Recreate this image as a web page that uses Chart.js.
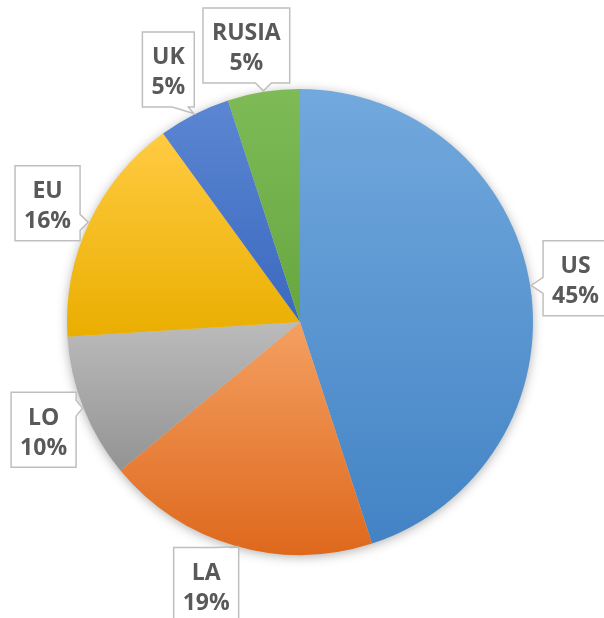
<!DOCTYPE html>
<html>
<head>
<meta charset="utf-8">
<script src="https://cdn.jsdelivr.net/npm/chart.js@4"></script>
<style>
  html, body { margin: 0; padding: 0; background: #fff; }
  #wrap { width: 604px; height: 618px; position: relative; }
</style>
</head>
<body>
<div id="wrap"><canvas id="pie"></canvas></div>
<script>
const categories = ["US", "LA", "LO", "EU", "UK", "RUSIA"];
const values = [45, 19, 10, 16, 5, 5];
// light (top) and dark (bottom) colour of each slice
const topColors = ["#72A9DD", "#F4A062", "#BBBBBB", "#FFCB42", "#5B86D2", "#7EBB57"];
const bottomColors = ["#4383C5", "#DE681C", "#939393", "#EAAE00", "#3B69BF", "#66A63F"];

const total = values.reduce((a, b) => a + b, 0);

// vertical gradient fitted to the slice's own height
function sliceFill(ctx) {
    const chart = ctx.chart;
    const area = chart.chartArea;
    const i = ctx.dataIndex;
    if (!area) return topColors[i];
    const cx = (area.left + area.right) / 2;
    const cy = (area.top + area.bottom) / 2;
    const r = Math.min(area.right - area.left, area.bottom - area.top) / 2;
    let before = 0;
    for (let k = 0; k < i; k++) before += values[k];
    const a0 = before / total * Math.PI * 2;
    const a1 = (before + values[i]) / total * Math.PI * 2;
    // angle measured clockwise from the top
    let ys = [cy, cy - r * Math.cos(a0), cy - r * Math.cos(a1)];
    if (a0 <= 0 && a1 >= 0) ys.push(cy - r);
    if (a0 <= Math.PI && a1 >= Math.PI) ys.push(cy + r);
    const y0 = Math.min(...ys), y1 = Math.max(...ys);
    const g = chart.ctx.createLinearGradient(0, y0, 0, y1 + 1);
    g.addColorStop(0, topColors[i]);
    g.addColorStop(1, bottomColors[i]);
    return g;
}

// soft shadow under the whole pie
const shadowPlugin = {
    id: "pieShadow",
    beforeDatasetsDraw(chart) {
        const arc = chart.getDatasetMeta(0).data[0];
        if (!arc) return;
        const c = chart.ctx;
        c.save();
        c.shadowColor = "rgba(0,0,0,0.35)";
        c.shadowBlur = 12;
        c.shadowOffsetX = 0;
        c.shadowOffsetY = 2;
        c.fillStyle = "#cccccc";
        c.beginPath();
        c.arc(arc.x, arc.y, arc.outerRadius - 1, 0, Math.PI * 2);
        c.fill();
        c.restore();
    }
};

// small hand nudges of the boxes, like Excel's label placement
const nudge = { LA: [-16, -5], LO: [3, 5], UK: [-5, -4], RUSIA: [-10, -1] };

// Excel-style callout boxes
const calloutPlugin = {
    id: "callouts",
    afterDatasetsDraw(chart) {
        const c = chart.ctx;
        const meta = chart.getDatasetMeta(0);
        c.save();
        c.font = "bold 23px 'Open Sans', sans-serif";
        c.textAlign = "center";
        c.textBaseline = "alphabetic";
        meta.data.forEach((arc, i) => {
            const mid = (arc.startAngle + arc.endAngle) / 2;
            const dx = Math.cos(mid), dy = Math.sin(mid);
            const tip = { x: arc.x + dx * (arc.outerRadius + 1), y: arc.y + dy * (arc.outerRadius + 1) };
            const dist = arc.outerRadius + 46;
            const n = nudge[categories[i]] || [0, 0];
            const bx = arc.x + dx * dist + n[0], by = arc.y + dy * dist + n[1];
            const line1 = categories[i];
            const line2 = Math.round(values[i] / total * 100) + "%";
            const w = Math.max(c.measureText(line1).width, c.measureText(line2).width) + 18;
            const h = 75;
            const L = bx - w / 2, R = bx + w / 2, T = by - h / 2, B = by + h / 2;

            // which side carries the pointer
            const out = { bottom: tip.y - B, top: T - tip.y, right: tip.x - R, left: L - tip.x };
            let side = "bottom", best = -Infinity;
            for (const k in out) if (out[k] > best) { best = out[k]; side = k; }
            const half = 8, m = 6;
            const clamp = (v, lo, hi) => Math.max(lo, Math.min(hi, v));

            c.beginPath();
            c.moveTo(L, T);
            if (side === "top") {
                const px = clamp(tip.x, L + m + half, R - m - half);
                c.lineTo(px - half, T); c.lineTo(tip.x, tip.y); c.lineTo(px + half, T);
            }
            c.lineTo(R, T);
            if (side === "right") {
                const py = clamp(tip.y, T + m + half, B - m - half);
                c.lineTo(R, py - half); c.lineTo(tip.x, tip.y); c.lineTo(R, py + half);
            }
            c.lineTo(R, B);
            if (side === "bottom") {
                const px = clamp(tip.x, L + m + half, R - m - half);
                c.lineTo(px + half, B); c.lineTo(tip.x, tip.y); c.lineTo(px - half, B);
            }
            c.lineTo(L, B);
            if (side === "left") {
                const py = clamp(tip.y, T + m + half, B - m - half);
                c.lineTo(L, py + half); c.lineTo(tip.x, tip.y); c.lineTo(L, py - half);
            }
            c.closePath();
            c.fillStyle = "#ffffff";
            c.fill();
            c.lineWidth = 1.5;
            c.strokeStyle = "#BFBFBF";
            c.stroke();

            c.fillStyle = "#595959";
            c.fillText(line1, bx, by - 5);
            c.fillText(line2, bx, by + 25);
        });
        c.restore();
    }
};

new Chart(document.getElementById("pie"), {
    type: "pie",
    data: {
        labels: categories,
        datasets: [{
            data: values,
            backgroundColor: sliceFill,
            borderWidth: 0
        }]
    },
    options: {
        responsive: true,
        maintainAspectRatio: false,
        animation: false,
        layout: { padding: { left: 67, right: 71, top: 89, bottom: 63 } },
        plugins: {
            legend: { display: false },
            tooltip: { enabled: false },
            title: { display: false }
        }
    },
    plugins: [shadowPlugin, calloutPlugin]
});
</script>
</body>
</html>
